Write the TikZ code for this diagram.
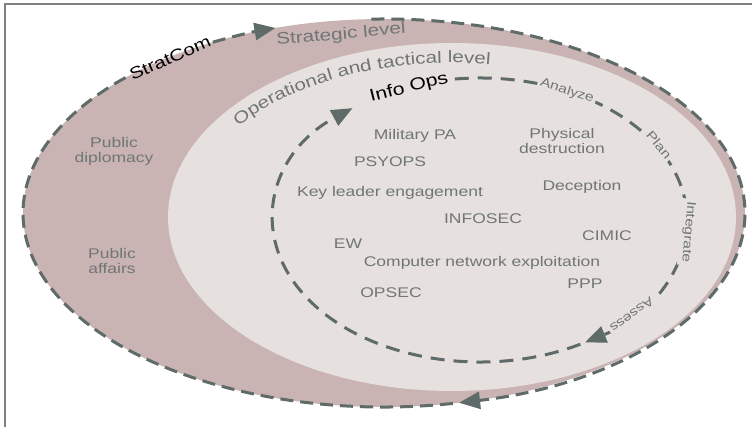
\documentclass[tikz,border=0pt]{standalone}
\usepackage{fontspec}
\setmainfont{Liberation Sans}[FakeStretch=1.25]
\usetikzlibrary{arrows.meta, decorations.text}
\definecolor{ringfill}{HTML}{C9B4B3}
\definecolor{corefill}{HTML}{E6E0DE}
\definecolor{dashgray}{HTML}{5E6B69}
\definecolor{txtgray}{HTML}{6F7675}
\definecolor{framegray}{HTML}{808080}

\begin{document}
\begin{tikzpicture}[x=1pt, y=1pt,
		lbl/.style={text=txtgray, font=\fontsize{14}{15}\selectfont, align=center, inner sep=0pt},
		lvl/.style={text=txtgray, font=\fontsize{16.5}{18}\selectfont, inner sep=0pt},
		cyc/.style={text=txtgray, font=\fontsize{12.5}{13}\selectfont, fill=corefill, inner sep=2.5pt},
		ring/.style={draw=dashgray, line width=3pt, dash pattern=on 13pt off 7pt},
		loopline/.style={draw=dashgray, line width=3pt, dash pattern=on 14pt off 9pt},
		tip/.style={-{Triangle[length=21pt, width=17pt]}}]
			\useasboundingbox (0,0) rectangle (752,427);
			\draw[framegray, line width=1.5pt] (5,0) -- (5,423) -- (752,423);

			\fill[ringfill] (384,214) ellipse [x radius=361, y radius=194];
			\fill[corefill] (452,210) ellipse [x radius=284, y radius=174];

			\draw[ring, tip] (384,214) ++(92:361 and 194) arc[start angle=92, end angle=-78, x radius=361, y radius=194];
			\draw[ring] (384,214) ++(-79:361 and 194) arc[start angle=-79, end angle=-224.6, x radius=361, y radius=194];
			\draw[ring, tip] (384,214) ++(118.3:361 and 194) arc[start angle=118.3, end angle=107.5, x radius=361, y radius=194];

			\draw[loopline, tip] (480,207) ++(97:207 and 142) arc[start angle=97, end angle=-59.5, x radius=207, y radius=142];
			\draw[loopline, tip] (480,207) ++(-61:207 and 142) arc[start angle=-61, end angle=-232, x radius=207, y radius=142];

			\node (stratcom)[font=\fontsize{16.5}{18}\selectfont, rotate=24] at (170, 369) {StratCom};
			\node (strat)[lvl, rotate=5] at (341, 392) {Strategic level};
			\path[decorate, decoration={text along path, text align=left, text color=txtgray,
				text={|\fontsize{16.5}{18}\selectfont|Operational and tactical level}}]
				(452,210) ++(144:264 and 154) arc[start angle=144, end angle=70, x radius=264, y radius=154];
			\node (infoops)[font=\fontsize{17}{18}\selectfont, rotate=14] at (409, 339) {Info Ops};

			\node (analyze)[cyc, rotate=-18] at (567, 336) {Analyze};
			\node (plan)[cyc, rotate=-50] at (659, 282) {Plan};
			\node (integ)[cyc, rotate=-95] at (688, 195) {Integrate};
			\node (assess)[cyc, rotate=-144] at (632, 112) {Assess};

			\node (pubdip)[lbl] at (114, 276) {Public\\diplomacy};
			\node (pubaff)[lbl] at (112, 166) {Public\\affairs};

			\node (milpa)[lbl] at (415, 291) {Military PA};
			\node (psyops)[lbl] at (390, 265) {PSYOPS};
			\node (kle)[lbl] at (390, 234) {Key leader engagement};
			\node (infosec)[lbl] at (483, 208) {INFOSEC};
			\node (ew)[lbl] at (348, 183) {EW};
			\node (cne)[lbl] at (482, 164) {Computer network exploitation};
			\node (opsec)[lbl] at (391, 134) {OPSEC};
			\node (physdest)[lbl] at (562, 286) {Physical\\destruction};
			\node (decep)[lbl] at (582, 240) {Deception};
			\node (cimic)[lbl] at (607, 191) {CIMIC};
			\node (ppp)[lbl] at (585, 143) {PPP};
		\end{tikzpicture}
\end{document}
